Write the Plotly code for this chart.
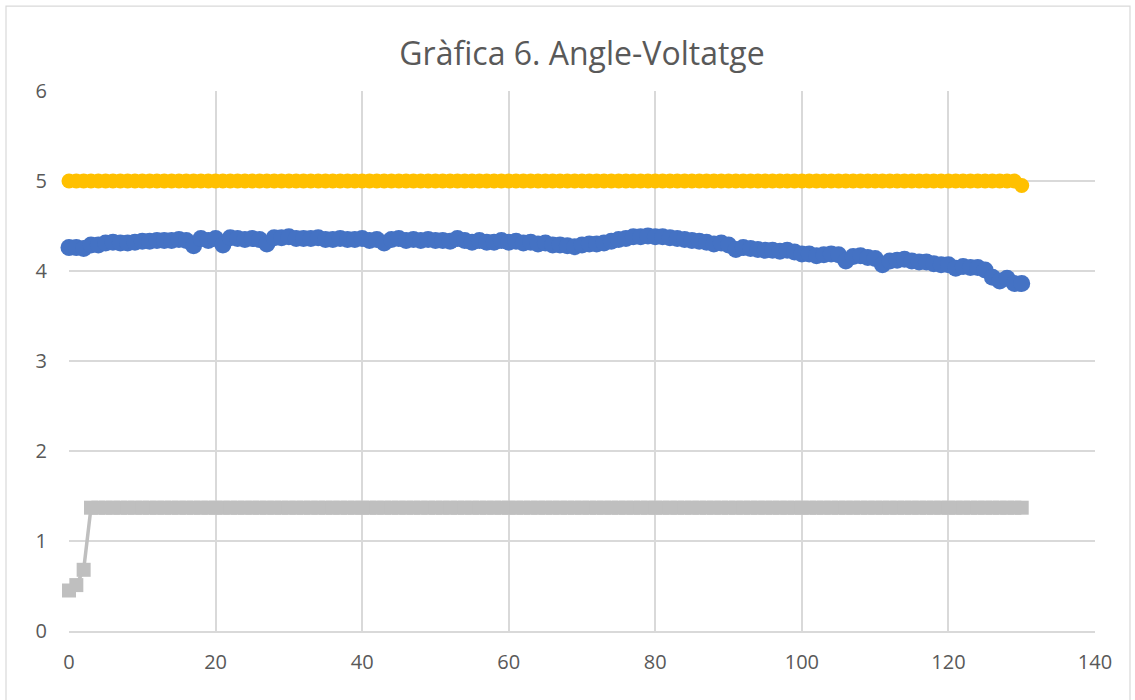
import plotly.graph_objects as go

# Angle (x) from 0 to 130
angle = list(range(131))

# Series 1 (blue)
voltatge_1 = [
    4.26, 4.26, 4.25, 4.29, 4.29, 4.31, 4.32, 4.31, 4.31, 4.32,
    4.33, 4.33, 4.34, 4.34, 4.34, 4.35, 4.34, 4.28, 4.36, 4.34,
    4.36, 4.29, 4.37, 4.36, 4.35, 4.36, 4.35, 4.30, 4.37, 4.37,
    4.38, 4.36, 4.36, 4.36, 4.37, 4.35, 4.35, 4.36, 4.35, 4.35,
    4.36, 4.34, 4.35, 4.31, 4.35, 4.36, 4.34, 4.35, 4.34, 4.35,
    4.34, 4.34, 4.33, 4.36, 4.34, 4.32, 4.34, 4.32, 4.32, 4.34,
    4.32, 4.33, 4.31, 4.32, 4.30, 4.31, 4.29, 4.29, 4.28, 4.27,
    4.29, 4.30, 4.30, 4.31, 4.33, 4.35, 4.36, 4.38, 4.38, 4.39,
    4.38, 4.38, 4.37, 4.36, 4.35, 4.34, 4.33, 4.32, 4.30, 4.31,
    4.29, 4.24, 4.26, 4.25, 4.24, 4.23, 4.23, 4.22, 4.23, 4.21,
    4.19, 4.19, 4.17, 4.18, 4.19, 4.18, 4.11, 4.16, 4.17, 4.15,
    4.14, 4.07, 4.11, 4.12, 4.13, 4.11, 4.10, 4.10, 4.08, 4.07,
    4.07, 4.03, 4.05, 4.04, 4.04, 4.01, 3.93, 3.89, 3.92, 3.86,
    3.86,
]

# Series 2 (grey)
voltatge_2 = [0.45, 0.51, 0.68] + [1.37] * 128

# Series 3 (yellow)
voltatge_3 = [5.0] * 130 + [4.95]

title_text = "Gràfica 6. Angle-Voltatge"
font_family = "Open Sans, Calibri, Liberation Sans, sans-serif"
text_grey = "#595959"

fig = go.Figure()

fig.add_trace(go.Scatter(
    x=angle, y=voltatge_1, mode="lines+markers", cliponaxis=False,
    line=dict(color="#4472c4", width=3.5),
    marker=dict(symbol="circle", size=17, color="#4472c4"),
    showlegend=False,
))
fig.add_trace(go.Scatter(
    x=angle, y=voltatge_2, mode="lines+markers", cliponaxis=False,
    line=dict(color="#bfbfbf", width=3.5),
    marker=dict(symbol="square", size=14, color="#bfbfbf"),
    showlegend=False,
))
fig.add_trace(go.Scatter(
    x=angle, y=voltatge_3, mode="lines+markers", cliponaxis=False,
    line=dict(color="#ffc000", width=3.5),
    marker=dict(symbol="circle", size=15, color="#ffc000"),
    showlegend=False,
))

# Chart-area border
fig.add_shape(
    type="rect", xref="paper", yref="paper",
    x0=-0.0614, x1=1.0341, y0=-0.25, y1=1.157,
    line=dict(color="#d9d9d9", width=1.2), fillcolor="rgba(0,0,0,0)",
    layer="below",
)

fig.update_layout(
    width=1135, height=700,
    margin=dict(l=69, r=40, t=91, b=69),
    paper_bgcolor="white", plot_bgcolor="white",
    font=dict(family=font_family, color=text_grey, size=20),
    title=dict(
        text=title_text, x=0.5, xanchor="center", xref="paper",
        y=0.923, yanchor="middle",
        font=dict(size=32, color=text_grey, family=font_family),
    ),
    xaxis=dict(
        range=[0, 140], dtick=20, tick0=0,
        showgrid=True, gridcolor="#d9d9d9", gridwidth=1.5,
        zeroline=False, showline=True, linecolor="#d9d9d9", linewidth=1.5,
        ticks="", ticklabelstandoff=12,
        tickfont=dict(size=20, color=text_grey),
    ),
    yaxis=dict(
        range=[0, 6], dtick=1, tick0=0,
        showgrid=True, gridcolor="#d9d9d9", gridwidth=1.5,
        zeroline=False, showline=False,
        ticks="", ticklabelstandoff=21,
        tickfont=dict(size=20, color=text_grey),
    ),
)

fig.write_html("out.html")
